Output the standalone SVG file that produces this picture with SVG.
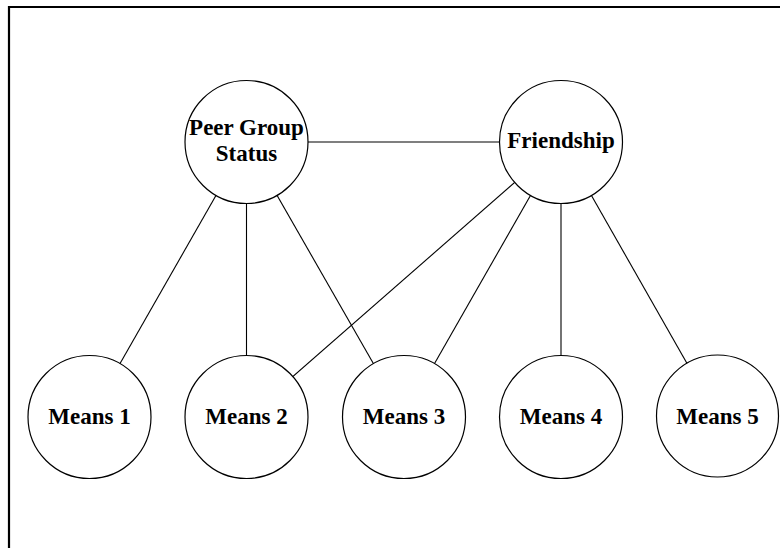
<svg xmlns="http://www.w3.org/2000/svg" width="780" height="548" viewBox="0 0 780 548">
<style>
.node circle{fill:#fff;stroke:#000;stroke-width:1.2}
.node text{font-family:"Liberation Serif","Times New Roman",serif;font-weight:bold;font-size:23px;text-anchor:middle;fill:#000}
#connectors line{stroke:#000;stroke-width:1.1}
</style>
<rect width="780" height="548" fill="#fff"/>
<path d="M9,548 V7 H780" fill="none" stroke="#000" stroke-width="2.2"/>
<g id="connectors">
<line x1="246.5" y1="142" x2="561" y2="142"/>
<line x1="246.5" y1="142" x2="89.5" y2="417"/>
<line x1="246.5" y1="142" x2="246.5" y2="417"/>
<line x1="246.5" y1="142" x2="404" y2="417"/>
<line x1="561" y1="142" x2="246.5" y2="417"/>
<line x1="561" y1="142" x2="404" y2="417"/>
<line x1="561" y1="142" x2="561" y2="417"/>
<line x1="561" y1="142" x2="717.5" y2="417"/>
</g>
<g id="peer" class="node"><circle cx="246.5" cy="142" r="61.5"/><text x="246.5" y="135">Peer Group</text><text x="246.5" y="161">Status</text></g>
<g id="friendship" class="node"><circle cx="561" cy="142" r="61.5"/><text x="561" y="148">Friendship</text></g>
<g id="means1" class="node"><circle cx="89.5" cy="417" r="61.5"/><text x="89.5" y="424">Means 1</text></g>
<g id="means2" class="node"><circle cx="246.5" cy="417" r="61.5"/><text x="246.5" y="424">Means 2</text></g>
<g id="means3" class="node"><circle cx="404" cy="417" r="61.5"/><text x="404" y="424">Means 3</text></g>
<g id="means4" class="node"><circle cx="561" cy="417" r="61.5"/><text x="561" y="424">Means 4</text></g>
<g id="means5" class="node"><circle cx="717.5" cy="416" r="61"/><text x="717.5" y="424">Means 5</text></g>
</svg>
